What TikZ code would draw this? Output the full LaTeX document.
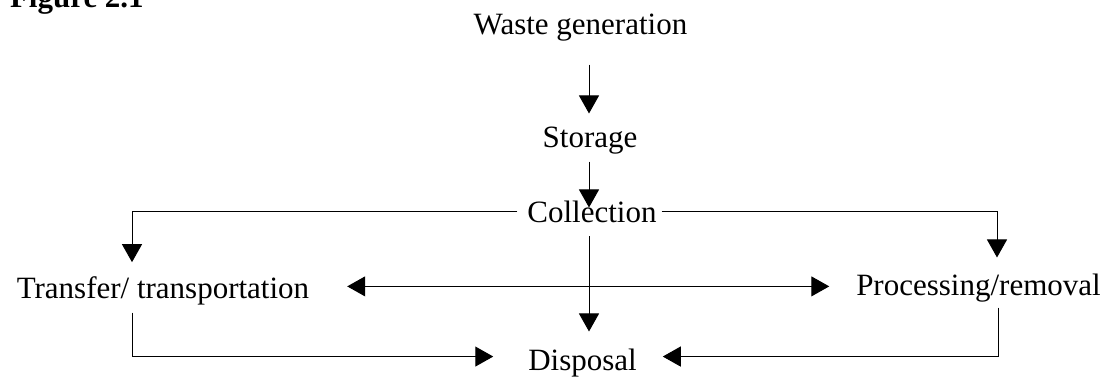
\documentclass[tikz,border=0pt]{standalone}
\usepackage{fontspec}
\setmainfont{Liberation Serif}
\usetikzlibrary{arrows.meta}
\begin{document}
\begin{tikzpicture}[x=1pt,y=-1pt,
  lbl/.style={inner sep=0pt,outer sep=0pt,anchor=base,font=\fontsize{31}{37}\selectfont},
  conn/.style={line width=1pt,draw=black},
  arr/.style={conn,-{Triangle[length=18pt,width=20pt]}},
  darr/.style={conn,{Triangle[length=18pt,width=20pt]}-{Triangle[length=18pt,width=20pt]}}]
\clip (0,0) rectangle (1115,378);
\node[lbl,anchor=base west,font=\fontsize{31}{37}\selectfont\bfseries] (fig) at (10,7) {Figure 2.1};
\node[lbl] (waste) at (580.5,34) {Waste generation};
\node[lbl] (storage) at (590,147) {Storage};
\node[lbl] (coll) at (592,222) {Collection};
\node[lbl] (trans) at (163,298) {Transfer/ transportation};
\node[lbl] (proc) at (978.5,295) {Processing/removal};
\node[lbl] (disp) at (582.5,370) {Disposal};
% vertical chain
\draw[arr,shorten <=24pt,shorten >=13pt] ([xshift=-1pt]waste.south -| storage.north) -- ([xshift=-1pt]storage.north);
\draw[arr,shorten <=8pt,shorten >=-7pt] ([xshift=-1pt]storage.south) -- ([xshift=-1pt]storage.south |- coll.north);
\draw[arr,shorten <=14pt,shorten >=17pt] ([xshift=-3pt]coll.south) -- ([xshift=-3pt]coll.south |- disp.north);
% branches from collection
\draw[arr,shorten <=10pt,shorten >=14pt] (coll.west) -| ([xshift=-31pt]trans.north);
\draw[arr,shorten <=5pt,shorten >=16pt] (coll.east) -| ([xshift=18.5pt]proc.north);
% two-way link
\draw[darr,shorten <=38pt,shorten >=27pt] ([yshift=4pt]trans.east) -- ([yshift=4pt]trans.east -| proc.west);
% to disposal
\draw[arr,shorten <=8pt,shorten >=35pt] ([xshift=-31pt]trans.south) |- ([yshift=6pt]disp.west);
\draw[arr,shorten <=6pt,shorten >=26pt] ([xshift=19.5pt]proc.south) |- ([yshift=6pt]disp.east);
\end{tikzpicture}
\end{document}
